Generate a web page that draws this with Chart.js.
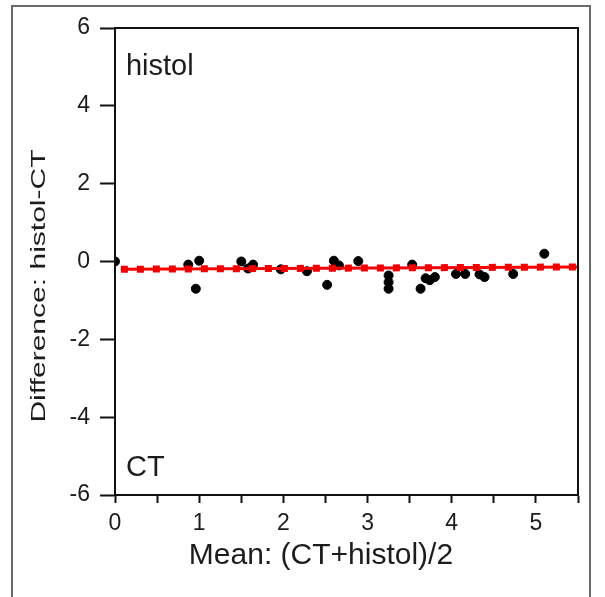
<!DOCTYPE html>
<html>
<head>
<meta charset="utf-8">
<script src="https://cdn.jsdelivr.net/npm/chart.js@4"></script>
<style>
  html, body { margin: 0; padding: 0; background: #fff; }
  #wrap { width: 605px; height: 597px; }
</style>
</head>
<body>
<div id="wrap"><canvas id="baChart"></canvas></div>
<script>
// mean (x) and difference (y)
const meanValues = [0.00, 0.87, 1.00, 0.96, 1.50, 1.58, 1.64, 1.97, 2.28, 2.52, 2.60, 2.66, 2.89,
                    3.25, 3.25, 3.25, 3.53, 3.63, 3.69, 3.74, 3.80, 4.05, 4.16, 4.33, 4.39, 4.73, 5.10];
const diffValues = [0.00, -0.08, 0.02, -0.70, 0.00, -0.18, -0.08, -0.20, -0.25, -0.60, 0.02, -0.10, 0.01,
                    -0.36, -0.53, -0.70, -0.08, -0.70, -0.43, -0.48, -0.40, -0.32, -0.32, -0.33, -0.40, -0.32, 0.20];
const biasX = [0.07, 5.5];
const biasY = [-0.20, -0.14];
const yTicks = [-6, -4, -2, 0, 2, 4, 6];
const yTitle = 'Difference: histol-CT';
const xTitle = 'Mean: (CT+histol)/2';

const points = meanValues.map((x, i) => ({ x: x, y: diffValues[i] }));
const bias = biasX.map((x, i) => ({ x: x, y: biasY[i] }));

const FONT = "'Liberation Sans', Arial, sans-serif";

const framePlugin = {
    id: 'frame',
    beforeDraw(chart) {
        const c = chart.ctx;
        c.save();
        c.strokeStyle = '#6a6a6a';
        c.lineWidth = 2;
        c.beginPath();
        c.moveTo(12, 597);
        c.lineTo(12, 6);
        c.lineTo(590, 6);
        c.lineTo(590, 597);
        c.stroke();
        c.restore();
    },
    afterDatasetsDraw(chart) {
        const a = chart.chartArea;
        const c = chart.ctx;
        c.save();
        c.strokeStyle = '#111';
        c.lineWidth = 2;
        c.strokeRect(a.left, a.top, a.right - a.left, a.bottom - a.top);
        const xs = chart.scales.x, ys = chart.scales.y;
        c.fillStyle = '#1c1c1c';
        c.font = '29px ' + FONT;
        c.textBaseline = 'middle';
        c.fillText('histol', xs.getPixelForValue(0.13), ys.getPixelForValue(5.0));
        c.fillText('CT', xs.getPixelForValue(0.13), ys.getPixelForValue(-5.3));
        // x title sits a bit left of the plot centre in the source
        c.textAlign = 'center';
        c.font = '30px ' + FONT;
        c.fillText(xTitle, 321, 556);
        // y title is drawn stretched along its length, as in the source
        c.translate(39, 286);
        c.rotate(-Math.PI / 2);
        c.scale(1.43, 1);
        c.font = '21px ' + FONT;
        c.fillText(yTitle, 0, 0);
        c.restore();
    }
};

new Chart(document.getElementById('baChart'), {
    type: 'scatter',
    data: {
        datasets: [{
            label: 'Differences',
            data: points,
            backgroundColor: '#000',
            borderColor: '#000',
            pointRadius: 4.5,
            order: 3
        }, {
            type: 'line',
            label: 'Bias',
            data: bias,
            borderColor: '#f00',
            borderWidth: 3,
            pointRadius: 0,
            order: 2
        }, {
            type: 'line',
            label: 'Bias dashes',
            data: bias,
            borderColor: '#e00',
            borderWidth: 7,
            borderDash: [7, 9],
            pointRadius: 0,
            order: 1
        }]
    },
    options: {
        responsive: true,
        maintainAspectRatio: false,
        animation: false,
        layout: { padding: { left: 12, right: 27, top: 28, bottom: 20 } },
        plugins: { legend: { display: false }, tooltip: { enabled: false } },
        scales: {
            x: {
                type: 'linear',
                min: 0,
                max: 5.5,
                afterFit(s) { s.height = 82; },
                border: { color: '#111', width: 2 },
                grid: { drawOnChartArea: false, tickLength: 8, tickColor: '#111', tickWidth: 2 },
                ticks: {
                    stepSize: 0.5,
                    color: '#1c1c1c',
                    font: { family: FONT, size: 23 },
                    padding: 7,
                    maxRotation: 0,
                    autoSkip: false,
                    callback: v => (v % 1 === 0 ? v : '')
                },
                title: { display: false }
            },
            y: {
                type: 'linear',
                min: -6,
                max: 6,
                afterFit(s) { s.width = 103; },
                afterBuildTicks(s) { s.ticks = yTicks.map(v => ({ value: v })); },
                border: { color: '#111', width: 2 },
                grid: { drawOnChartArea: false, tickLength: 15, tickColor: '#111', tickWidth: 2 },
                ticks: {
                    color: '#1c1c1c',
                    font: { family: FONT, size: 23 },
                    padding: 10
                },
                title: { display: false }
            }
        }
    },
    plugins: [framePlugin]
});
</script>
</body>
</html>
